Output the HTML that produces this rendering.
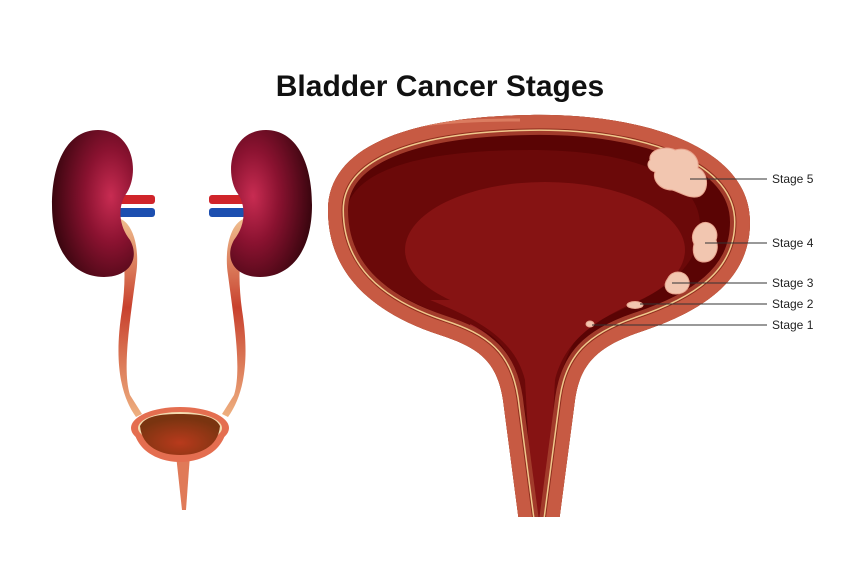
<!DOCTYPE html>
<html><head><meta charset="utf-8"><style>
html,body{margin:0;padding:0;background:#fff;}
svg{display:block;}
text{font-family:"Liberation Sans",sans-serif;}
</style></head><body>
<svg width="860" height="574" viewBox="0 0 860 574" xmlns="http://www.w3.org/2000/svg">
<defs>
<radialGradient id="kg" cx="0.72" cy="0.45" r="0.8">
<stop offset="0" stop-color="#c82c52"/><stop offset="0.4" stop-color="#8a1230"/><stop offset="1" stop-color="#2a0308"/>
</radialGradient>
<linearGradient id="ug" x1="0" y1="0" x2="0" y2="1">
<stop offset="0" stop-color="#f0c090"/><stop offset="0.45" stop-color="#c8412e"/><stop offset="1" stop-color="#eeb080"/>
</linearGradient>
<radialGradient id="sb" cx="0.5" cy="0.7" r="0.6"><stop offset="0" stop-color="#b83a1c"/><stop offset="1" stop-color="#7a3410"/></radialGradient>
<clipPath id="bc"><path id="bp" d="M522,545 L503,400 C497,362 480,348 440,335 C370,312 328,272 328,210 C328,150 400,117 530,115 C650,113 750,150 750,222 C750,282 700,312 640,332 C596,347 580,365 575,400 L556,545 Z"/></clipPath>
<clipPath id="cut"><rect x="0" y="0" width="860" height="517"/></clipPath>
</defs>

<text x="440" y="96" text-anchor="middle" font-size="30" font-weight="bold" fill="#111">Bladder Cancer Stages</text>

<!-- big bladder -->
<g clip-path="url(#cut)">
<g clip-path="url(#bc)">
<use href="#bp" fill="#5a0404"/>
<path d="M345,220 C345,170 420,150 530,150 C640,150 700,180 700,225 C700,280 640,300 600,320 C570,335 550,360 545,540 L535,540 C530,360 510,335 460,322 C400,300 345,270 345,220 Z" fill="#6b0909"/>
<ellipse cx="545" cy="250" rx="140" ry="68" fill="#861313"/>
<path d="M430,300 C480,320 515,340 525,380 L534,540 L546,540 L555,380 C565,340 595,320 640,300 Z" fill="#861313"/>
<path d="M470,325 C500,340 515,360 522,420" stroke="#b8343a" stroke-width="2" fill="none" opacity="0.7"/>
<path d="M610,325 C580,340 565,360 560,420" stroke="#b8343a" stroke-width="2" fill="none" opacity="0.7"/>
<use href="#bp" fill="none" stroke="#a23b2b" stroke-width="40"/>
<use href="#bp" fill="none" stroke="#f0c88c" stroke-width="32"/>
<use href="#bp" fill="none" stroke="#8f2e1e" stroke-width="29"/>
<use href="#bp" fill="none" stroke="#c75a43" stroke-width="27"/>
<path d="M335,150 C380,125 450,120 520,120" stroke="#e48a6c" stroke-width="3" fill="none" opacity="0.7"/>
</g>
</g>
<!-- tumors -->
<g fill="#f2c6b0" stroke="#e9a58f" stroke-width="1">
<path d="M650,160 C648,150 665,145 675,150 C690,146 700,158 698,168 C708,172 710,190 700,196 C690,200 680,192 672,190 C660,190 652,180 655,172 C648,170 646,164 650,160 Z"/>
<path d="M700,224 C710,218 720,230 716,240 C720,250 714,262 704,262 C694,262 692,252 694,244 C690,236 694,228 700,224 Z"/>
<path d="M668,278 C672,270 684,270 688,278 C692,286 686,294 676,294 C666,294 662,286 668,278 Z"/>
<ellipse cx="635" cy="305" rx="8" ry="3.5"/>
<ellipse cx="590" cy="324" rx="4" ry="3"/>
</g>
<g stroke="#333" stroke-width="1">
<line x1="690" y1="179" x2="767" y2="179"/>
<line x1="705" y1="243" x2="767" y2="243"/>
<line x1="672" y1="283" x2="767" y2="283"/>
<line x1="640" y1="304" x2="767" y2="304"/>
<line x1="592" y1="325" x2="767" y2="325"/>
</g>
<g font-size="12" fill="#222">
<text x="772" y="183">Stage 5</text>
<text x="772" y="247">Stage 4</text>
<text x="772" y="287">Stage 3</text>
<text x="772" y="308">Stage 2</text>
<text x="772" y="329">Stage 1</text>
</g>

<!-- ureters -->
<path d="M118,218 C134,222 140,250 136,275 C130,320 122,370 130,395 L142,414 L136,417 C120,395 114,360 122,310 C126,280 126,250 116,228 Z" fill="url(#ug)"/>
<path d="M246,218 C230,222 224,250 228,275 C234,320 242,370 234,395 L222,414 L228,417 C244,395 250,360 242,310 C238,280 238,250 248,228 Z" fill="url(#ug)"/>
<!-- vessels -->
<g>
<rect x="118" y="195" width="37" height="9" rx="3" fill="#d0242a"/>
<rect x="118" y="208" width="37" height="9" rx="3" fill="#1c4fb0"/>
<rect x="209" y="195" width="37" height="9" rx="3" fill="#d0242a"/>
<rect x="209" y="208" width="37" height="9" rx="3" fill="#1c4fb0"/>
</g>
<!-- kidneys -->
<path d="M98,130 C68,130 52,162 52,205 C52,252 74,277 104,277 C130,277 140,258 130,240 C118,225 118,206 126,194 C140,174 134,130 98,130 Z" fill="url(#kg)"/>
<path d="M98,130 C68,130 52,162 52,205 C52,252 74,277 104,277 C130,277 140,258 130,240 C118,225 118,206 126,194 C140,174 134,130 98,130 Z" fill="url(#kg)" transform="translate(364,0) scale(-1,1)"/>
<!-- small bladder -->
<path d="M176,455 L182,510 L186,510 L190,455 Z" fill="#e07a58"/>
<ellipse cx="180" cy="428" rx="49" ry="21" fill="#e46e50"/>
<path d="M133,425 C135,452 160,462 180,462 C200,462 225,452 227,425 Z" fill="#e46e50"/>
<ellipse cx="180" cy="428" rx="42" ry="16" fill="#f3dcb0"/>
<path d="M140,426 C142,448 162,455 180,455 C198,455 218,448 220,426 C215,416 200,414 180,414 C160,414 145,416 140,426 Z" fill="url(#sb)"/>
</svg>
</body></html>
